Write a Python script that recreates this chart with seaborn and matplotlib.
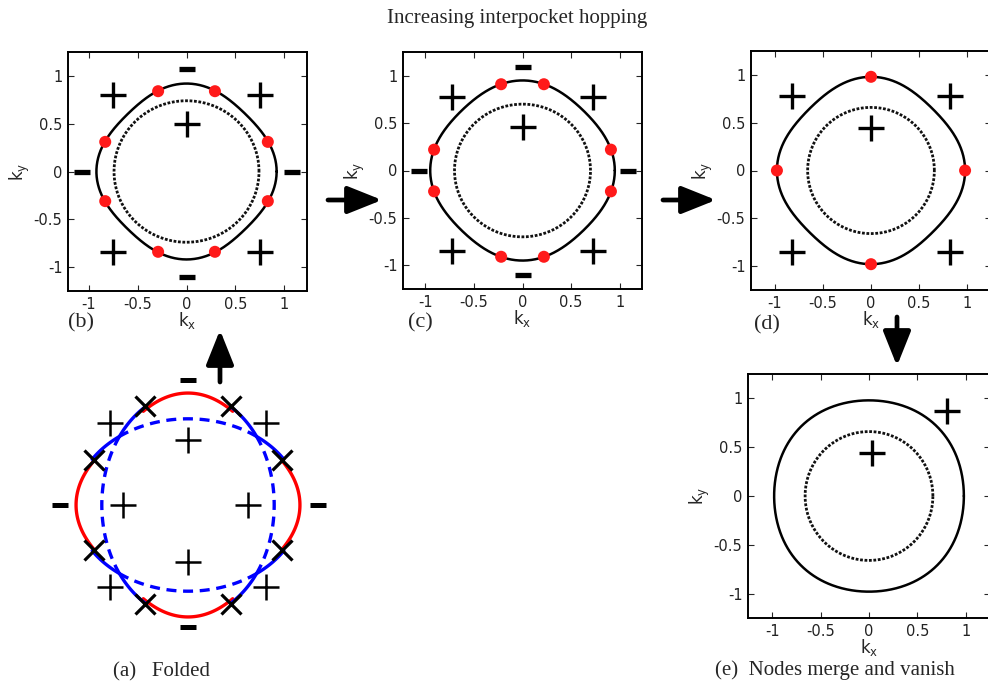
import numpy as np
import matplotlib
matplotlib.use("Agg")
import matplotlib.pyplot as plt
import seaborn as sns

W, H = 988, 685

# ----------------------
# data
# ----------------------
# pockets in panels (b)-(e): radius along the k axes and along the diagonal
panel_names = ["b", "c", "d", "e"]
outer_r_axis = [0.92, 0.95, 0.98, 0.98]
outer_r_diag = [0.85, 0.89, 0.91, 1.00]
inner_r_axis = [0.74, 0.70, 0.66, 0.66]
inner_r_diag = [0.74, 0.70, 0.66, 0.66]

# gap nodes (red dots)
b_nodes_kx = [-0.29, 0.29, -0.83, 0.83, -0.83, 0.83, -0.29, 0.29]
b_nodes_ky = [0.84, 0.84, 0.31, 0.31, -0.31, -0.31, -0.84, -0.84]
c_nodes_kx = [-0.22, 0.22, -0.91, 0.91, -0.91, 0.91, -0.22, 0.22]
c_nodes_ky = [0.91, 0.91, 0.22, 0.22, -0.22, -0.22, -0.91, -0.91]
d_nodes_kx = [0.0, -0.98, 0.98, 0.0]
d_nodes_ky = [0.98, 0.0, 0.0, -0.98]

# gap signs
b_plus_kx = [-0.75, 0.75, 0.0, -0.75, 0.75]
b_plus_ky = [0.80, 0.80, 0.50, -0.84, -0.84]
b_minus_kx = [0.0, 0.0, -1.07, 1.08]
b_minus_ky = [1.07, -1.10, 0.0, 0.0]
c_plus_kx = [-0.73, 0.73, 0.0, -0.73, 0.73]
c_plus_ky = [0.78, 0.78, 0.46, -0.85, -0.85]
c_minus_kx = [0.0, 0.0, -1.07, 1.09]
c_minus_ky = [1.09, -1.10, 0.0, 0.0]
d_plus_kx = [-0.82, 0.82, 0.0, -0.82, 0.82]
d_plus_ky = [0.78, 0.78, 0.44, -0.85, -0.85]
e_plus_kx = [0.81, 0.03]
e_plus_ky = [0.87, 0.44]

# folded picture (a), lengths in units of the red pocket
fold_red_r = [1.00, 0.88]          # red pocket: radius on axis, on diagonal
fold_blue_semi = [0.77, 1.01]      # two crossed blue ellipses: short, long semi-axis
node_angle_deg = [25.5, 66.6]      # where the blue ellipses cross the red pocket
a_cross_kx = [-0.38, 0.38, -0.84, 0.84, -0.84, 0.84, -0.38, 0.38]
a_cross_ky = [0.88, 0.88, 0.40, 0.40, -0.40, -0.40, -0.88, -0.88]
a_plus_kx = [-0.70, 0.70, -0.70, 0.70, 0.0, 0.0, -0.58, 0.54]
a_plus_ky = [0.73, 0.73, -0.73, -0.73, 0.58, -0.51, 0.0, 0.0]
a_minus_kx = [0.0, 0.0, -1.14, 1.16]
a_minus_ky = [1.12, -1.09, 0.0, 0.0]

ticks = [-1, -0.5, 0, 0.5, 1]
tick_labels = ["-1", "-0.5", "0", "0.5", "1"]

sns.set_style("ticks")
plt.rcParams["font.family"] = ["DejaVu Sans"]
plt.rcParams["mathtext.default"] = "regular"
serif = ["Liberation Serif", "DejaVu Serif"]

theta = np.linspace(0, 2 * np.pi, 721)


def pocket(r_axis, r_diag, th):
    r = 0.5 * (r_axis + r_diag) + 0.5 * (r_axis - r_diag) * np.cos(4 * th)
    return r * np.cos(th), r * np.sin(th)


def ellipse(ax_x, ax_y, th):
    r = ax_x * ax_y / np.sqrt((ax_y * np.cos(th)) ** 2 + (ax_x * np.sin(th)) ** 2)
    return r * np.cos(th), r * np.sin(th)


def px_axes(fig, x0, y0, x1, y1):
    return fig.add_axes([x0 / W, 1 - y1 / H, (x1 - x0) / W, (y1 - y0) / H])


def style_axes(ax, xlim):
    ax.set_xlim(*xlim)
    ax.set_ylim(-1.25, 1.25)
    ax.set_xticks(ticks)
    ax.set_xticklabels(tick_labels)
    ax.set_yticks(ticks)
    ax.set_yticklabels(tick_labels)
    ax.tick_params(direction="in", top=True, right=True, length=4, width=0.8,
                   labelsize=10.5, pad=4, labelcolor="#222222")
    for s in ax.spines.values():
        s.set_linewidth(1.4)
        s.set_color("black")
    ax.set_xlabel("k$_x$", fontsize=12, labelpad=-1)
    ax.set_ylabel("k$_y$", fontsize=12, labelpad=1)


def draw_pocket(ax, i):
    xo, yo = pocket(outer_r_axis[i], outer_r_diag[i], theta)
    xi, yi = pocket(inner_r_axis[i], inner_r_diag[i], theta)
    sns.lineplot(x=xo, y=yo, sort=False, estimator=None, color="black", lw=1.8, ax=ax)
    sns.lineplot(x=xi, y=yi, sort=False, estimator=None, color="#111111", lw=2.0,
                 linestyle=(0, (1.0, 0.6)), ax=ax)


def draw_signs(ax, pkx, pky, mkx=None, mky=None, size=19, width=2.4):
    ax.plot(pkx, pky, ls="none", marker="+", ms=size, mew=width, color="black")
    if mkx is not None:
        ax.plot(mkx, mky, ls="none", marker="_", ms=11, mew=3.8, color="black")


def arc(ax, fn, a0, a1, **kw):
    th = np.radians(np.linspace(a0, a1, 120))
    x, y = fn(th)
    sns.lineplot(x=x, y=y, sort=False, estimator=None, ax=ax, **kw)


fig = plt.figure(figsize=(W / 100, H / 100), dpi=100)

# ---- (b) ----
ax_b = px_axes(fig, 68, 52, 307, 291)
draw_pocket(ax_b, 0)
draw_signs(ax_b, b_plus_kx, b_plus_ky, b_minus_kx, b_minus_ky)
sns.scatterplot(x=b_nodes_kx, y=b_nodes_ky, color="#ff1a1a", s=75, edgecolor="none", zorder=5, ax=ax_b)
style_axes(ax_b, (-1.21, 1.23))

# ---- (c) ----
ax_c = px_axes(fig, 403, 52, 642, 289)
draw_pocket(ax_c, 1)
draw_signs(ax_c, c_plus_kx, c_plus_ky, c_minus_kx, c_minus_ky)
sns.scatterplot(x=c_nodes_kx, y=c_nodes_ky, color="#ff1a1a", s=75, edgecolor="none", zorder=5, ax=ax_c)
style_axes(ax_c, (-1.23, 1.23))

# ---- (d) ----
ax_d = px_axes(fig, 751, 51, 991, 290)
draw_pocket(ax_d, 2)
draw_signs(ax_d, d_plus_kx, d_plus_ky)
sns.scatterplot(x=d_nodes_kx, y=d_nodes_ky, color="#ff1a1a", s=75, edgecolor="none", zorder=5, ax=ax_d)
style_axes(ax_d, (-1.25, 1.25))

# ---- (e) ----
ax_e = px_axes(fig, 748, 374, 990, 618)
draw_pocket(ax_e, 3)
draw_signs(ax_e, e_plus_kx, e_plus_ky)
style_axes(ax_e, (-1.25, 1.25))

# ---- (a) folded ----
ax_a = px_axes(fig, 38, 355, 338, 655)
short, long_ = fold_blue_semi
lo, hi = node_angle_deg
red = lambda th: pocket(fold_red_r[0], fold_red_r[1], th)
ell_v = lambda th: ellipse(short, long_, th)   # tall ellipse
ell_h = lambda th: ellipse(long_, short, th)   # wide ellipse
red_kw = dict(color="#ff0000", lw=2.4)
blue_kw = dict(color="#0000ff", lw=2.4)
dash_kw = dict(color="#0000ff", lw=2.4, linestyle=(0, (3.0, 2.0)))

# red pocket between neighbouring nodes around each axis
for c in [0, 90, 180, 270]:
    arc(ax_a, red, c - lo, c + lo, **red_kw)
# each blue ellipse outside the other one: solid, from the diagonal to the node
for c in [0, 180]:
    arc(ax_a, ell_v, c + 45, c + hi, **blue_kw)
    arc(ax_a, ell_v, c + 180 - hi, c + 135, **blue_kw)
    arc(ax_a, ell_h, c + lo, c + 45, **blue_kw)
    arc(ax_a, ell_h, c + 135, c + 180 - lo, **blue_kw)
# parts of each ellipse lying inside the other one: dashed
for c in [0, 180]:
    arc(ax_a, ell_v, c - 45, c + 45, **dash_kw)
    arc(ax_a, ell_h, c + 45, c + 135, **dash_kw)

ax_a.plot(a_cross_kx, a_cross_ky, ls="none", marker="x", ms=14, mew=2.3, color="black", zorder=5)
draw_signs(ax_a, a_plus_kx, a_plus_ky, size=19, width=1.8)
ax_a.plot(a_minus_kx, a_minus_ky, ls="none", marker="_", ms=11, mew=3.6, color="black")
ax_a.set_xlim(-1.34, 1.34)
ax_a.set_ylim(-1.34, 1.34)
ax_a.axis("off")

# ---- overlay: arrows and captions (pixel coords) ----
ov = fig.add_axes([0, 0, 1, 1], zorder=10)
ov.set_xlim(0, W)
ov.set_ylim(H, 0)
ov.axis("off")
ov.patch.set_alpha(0)

arrow_kw = dict(arrowstyle="-|>,head_length=1.05,head_width=0.42", mutation_scale=20,
                lw=3.4, color="black", shrinkA=0, shrinkB=0)
ov.annotate("", xy=(382, 200), xytext=(328, 200), arrowprops=arrow_kw)
ov.annotate("", xy=(716, 200), xytext=(663, 200), arrowprops=arrow_kw)
ov.annotate("", xy=(897, 366), xytext=(897, 317), arrowprops=arrow_kw)
ov.annotate("", xy=(220, 330), xytext=(220, 382), arrowprops=arrow_kw)

ov.text(517, 18, "Increasing interpocket hopping", family=serif, fontsize=15,
        ha="center", va="center")
ov.text(81, 323, "(b)", family=serif, fontsize=16, ha="center", va="center")
ov.text(420, 323, "(c)", family=serif, fontsize=16, ha="center", va="center")
ov.text(767, 325, "(d)", family=serif, fontsize=16, ha="center", va="center")
ov.text(113, 672, "(a)   Folded", family=serif, fontsize=15, ha="left", va="center")
ov.text(715, 670, "(e)  Nodes merge and vanish", family=serif, fontsize=15,
        ha="left", va="center")

plt.savefig("out.png", dpi=100)
plt.close()
